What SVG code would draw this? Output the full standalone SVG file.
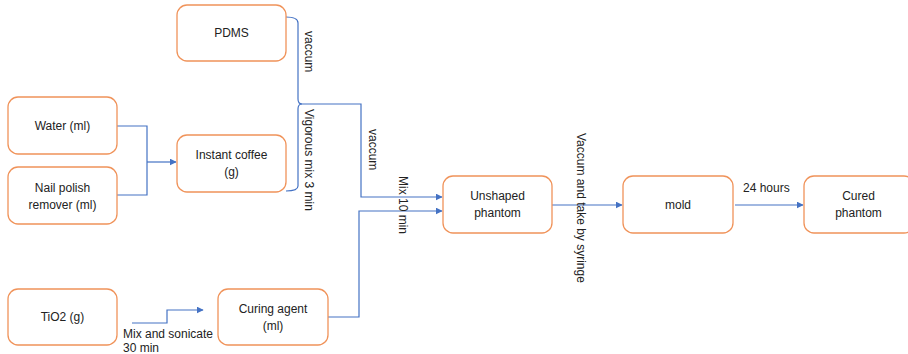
<svg xmlns="http://www.w3.org/2000/svg" width="908" height="354" viewBox="0 0 908 354">
<defs>
<style>
.box{fill:#fff;stroke:#F0935A;stroke-width:1.3}
.t{font-family:"Liberation Sans",Arial,sans-serif;font-size:12px;fill:#222;text-anchor:middle}
.l{font-family:"Liberation Sans",Arial,sans-serif;font-size:12px;fill:#222}
.c{fill:none;stroke:#4472C4;stroke-width:1.2}
.a{fill:none;stroke:#4472C4;stroke-width:1.2;marker-end:url(#arr)}
</style>
<marker id="arr" viewBox="0 0 10 10" refX="9" refY="5" markerWidth="7" markerHeight="7" markerUnits="userSpaceOnUse" orient="auto">
<path d="M0,0 L10,5 L0,10 z" fill="#4472C4"/>
</marker>
</defs>
<rect width="908" height="354" fill="#fff"/>

<g id="connectors">
<path class="c" d="M117,126 H147 V195 H117"/>
<path class="a" d="M147,162 H176"/>
<path class="c" d="M286,17 Q298,17 298,23 V99 Q298,104 302,104"/>
<path class="c" d="M302,104 Q298,104 298,109 V186 Q298,191 286,191"/>
<path class="a" d="M302,104 H361 V197 H442"/>
<path class="a" d="M328,317 H359 V211 H442"/>
<path class="a" d="M132,323 H167 V310 H203"/>
<path class="a" d="M552,205 H622"/>
<path class="a" d="M735,205 H803"/>
</g>

<g id="pdms"><rect class="box" x="177" y="5" width="109" height="56" rx="10"/><text class="t" x="231.5" y="37">PDMS</text></g>
<g id="water"><rect class="box" x="8" y="97" width="109" height="57" rx="10"/><text class="t" x="62.5" y="130">Water (ml)</text></g>
<g id="nail"><rect class="box" x="8" y="167" width="109" height="57" rx="10"/><text class="t" x="62.5" y="192">Nail polish</text><text class="t" x="62.5" y="209">remover (ml)</text></g>
<g id="coffee"><rect class="box" x="177" y="135" width="109" height="57" rx="10"/><text class="t" x="231.5" y="159">Instant coffee</text><text class="t" x="231.5" y="176">(g)</text></g>
<g id="tio2"><rect class="box" x="8" y="289" width="109" height="56" rx="10"/><text class="t" x="62.5" y="321">TiO2 (g)</text></g>
<g id="curing"><rect class="box" x="218" y="289" width="110" height="56" rx="10"/><text class="t" x="273" y="313">Curing agent</text><text class="t" x="273" y="330">(ml)</text></g>
<g id="unshaped"><rect class="box" x="443" y="176" width="109" height="57" rx="10"/><text class="t" x="497.5" y="200">Unshaped</text><text class="t" x="497.5" y="217">phantom</text></g>
<g id="mold"><rect class="box" x="623" y="176" width="110" height="57" rx="10"/><text class="t" x="678" y="209">mold</text></g>
<g id="cured"><rect class="box" x="804" y="176" width="110" height="57" rx="10"/><text class="t" x="858.5" y="200">Cured</text><text class="t" x="858.5" y="217">phantom</text></g>

<g id="labels">
<text class="l" transform="translate(305,31) rotate(90)">vaccum</text>
<text class="l" transform="translate(305,109) rotate(90)">Vigorous mix 3 min</text>
<text class="l" transform="translate(369,129) rotate(90)">vaccum</text>
<text class="l" transform="translate(399,176) rotate(90)">Mix 10 min</text>
<text class="l" transform="translate(577,133) rotate(90)">Vaccum and take by syringe</text>
<text class="l" x="743" y="192">24 hours</text>
<text class="l" x="123" y="338">Mix and sonicate</text>
<text class="l" x="123" y="352">30 min</text>
</g>
</svg>
